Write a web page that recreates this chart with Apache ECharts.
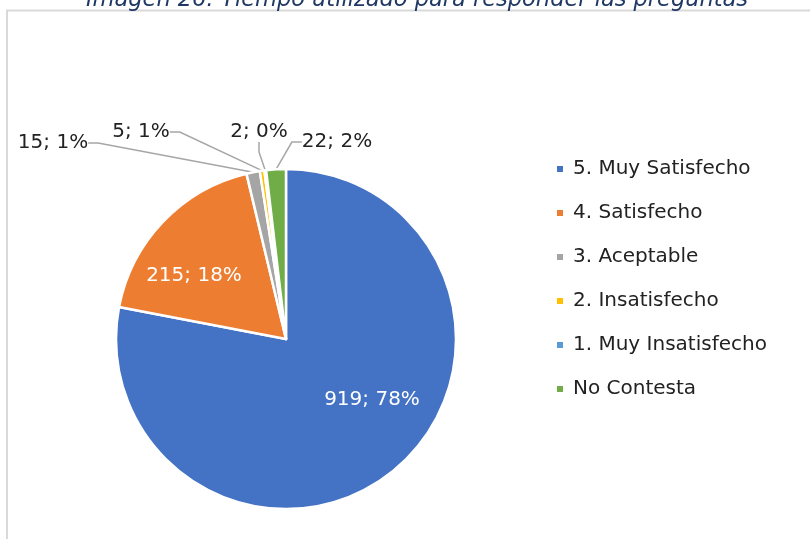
<!DOCTYPE html>
<html>
<head>
<meta charset="utf-8">
<script src="https://cdn.jsdelivr.net/npm/echarts@6/dist/echarts.min.js"></script>
<style>
  html, body { margin: 0; padding: 0; background: #fff; }
  #chart { width: 810px; height: 539px; }
</style>
</head>
<body>
<div id="chart"></div>
<script>
const categories = ['5. Muy Satisfecho', '4. Satisfecho', '3. Aceptable', '2. Insatisfecho', '1. Muy Insatisfecho', 'No Contesta']
const values = [919, 215, 15, 5, 2, 22]
const percents = ['78%', '18%', '1%', '1%', '0%', '2%']
const colors = ['#4472C4', '#ED7D31', '#A5A5A5', '#FFC000', '#5B9BD5', '#70AD47']

// where each data label sits (text centre)
const labelPos = [[372, 400], [194, 276], [53, 143], [141, 132], [259, 132], [337, 142]]

const FONT = 'DejaVu Sans'

const chart = echarts.init(document.getElementById('chart'))
chart.setOption({
  animation: false,
  color: colors,
  title: {
    text: 'Imagen 26: Tiempo utilizado para responder las preguntas',
    left: 412,
    textAlign: 'center',
    top: -16,
    textStyle: {fontFamily: FONT, fontStyle: 'italic', fontWeight: 'normal', fontSize: 22.5, color: '#1F3864'}
  },
  graphic: [{
    type: 'rect',
    shape: {x: 7, y: 10.5, width: 900, height: 600},
    style: {fill: 'none', stroke: '#d9d9d9', lineWidth: 2},
    silent: true
  }],
  legend: {
    orient: 'vertical',
    left: 550,
    top: 154,
    itemWidth: 8,
    itemHeight: 8,
    itemGap: 24,
    icon: 'rect',
    textStyle: {fontFamily: FONT, fontSize: 20, color: '#222', padding: [0, 0, 0, 4]},
    data: categories
  },
  series: [{
    type: 'pie',
    center: [286, 339],
    radius: 170,
    startAngle: 90,
    clockwise: true,
    itemStyle: {borderColor: '#fff', borderWidth: 2.5},
    label: {
      show: true,
      position: 'outside',
      fontFamily: FONT,
      fontSize: 20,
      color: '#222',
      formatter: p => p.value + '; ' + percents[p.dataIndex]
    },
    labelLine: {show: true, length: 10, length2: 10, lineStyle: {color: '#a6a6a6', width: 1.5}},
    labelLayout: p => ({
      x: labelPos[p.dataIndex][0],
      y: labelPos[p.dataIndex][1],
      align: 'center',
      verticalAlign: 'middle'
    }),
    data: categories.map((c, i) => ({
      name: c,
      value: values[i],
      label: i < 2 ? {color: '#fff'} : {},
      labelLine: i < 2 ? {show: false} : {}
    }))
  }]
})
</script>
</body>
</html>
